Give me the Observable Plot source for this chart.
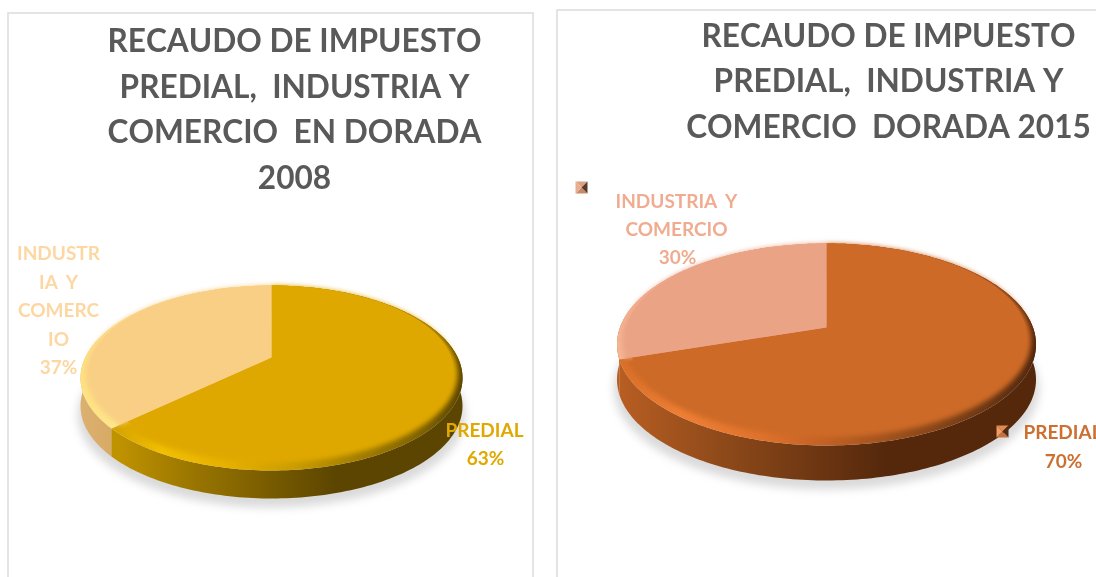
<!DOCTYPE html>
<html>
<head>
<meta charset="utf-8">
<script src="https://cdn.jsdelivr.net/npm/d3@7"></script>
<script src="https://cdn.jsdelivr.net/npm/@observablehq/plot@0.6"></script>
<style>
  html, body { margin: 0; padding: 0; background: #fff; overflow: hidden; }
  svg { display: block; }
  svg text { white-space: pre; }
  .shadow { filter: blur(4px); }
  .rim { filter: blur(0.6px); }
  .surface { filter: blur(2.5px); }
  .soft { filter: blur(0.4px); }
  .title { font-kerning: none; }
</style>
</head>
<body>
<div id="chart"></div>
<script>
// ---------- data ----------
const categories = ["PREDIAL", "INDUSTRIA Y COMERCIO"];
const values2008 = [63, 37];
const values2015 = [70, 30];

const title2008 = ["RECAUDO DE IMPUESTO", "PREDIAL,  INDUSTRIA Y", "COMERCIO  EN DORADA", "2008"];
const title2015 = ["RECAUDO DE IMPUESTO", "PREDIAL,  INDUSTRIA Y", "COMERCIO  DORADA 2015"];

const labels2008 = [
  {text: "INDUSTR", cat: 1}, {text: "IA  Y", cat: 1}, {text: "COMERC", cat: 1}, {text: "IO", cat: 1}, {text: "37%", cat: 1},
  {text: "PREDIAL", cat: 0}, {text: "63%", cat: 0}
];
const labels2015 = [
  {text: "INDUSTRIA  Y", cat: 1}, {text: "COMERCIO", cat: 1}, {text: "30%", cat: 1},
  {text: "PREDIAL", cat: 0}, {text: "70%", cat: 0}
];

// ---------- layout ----------
const W = 1096, H = 577;
const pie2008 = {
  id: "a", values: values2008, cx: 271, apex: 357, top: 285, bot: 470, rx: 191, depth: 28,
  flat: ["#dfa800", "#f9cf85"],
  sideStops: [[118, "#bf9200"], [200, "#967300"], [335, "#5c4500"], [470, "#5c4500"]],
  sideStops2: [[80, "#dcb070"], [125, "#d5a760"]],
  rimStops: [[118, "#d6a500"], [160, "#f2c000"], [230, "#e6b000"], [290, "#cc9e00"], [350, "#a88200"], [425, "#7d6000"], [462, "#5c4500"]],
  rimStops2: [[80, "#ffe27f"], [125, "#ffe890"]]
};
const pie2015 = {
  id: "b", values: values2015, cx: 826, apex: 327, top: 243, bot: 445, rx: 209.5, depth: 35,
  flat: ["#cd6a27", "#eba385"],
  sideStops: [[618, "#b85e22"], [720, "#8f4a1a"], [885, "#55280c"], [1040, "#55280c"]],
  sideStops2: [[612, "#b85e22"], [625, "#b85e22"]],
  rimStops: [[618, "#d96f28"], [680, "#ef7f34"], [760, "#e0722c"], [830, "#bf6024"], [900, "#9a4f1c"], [985, "#6d3815"], [1036, "#52260c"]],
  rimStops2: [[612, "#f6b595"], [625, "#f6b595"]]
};
const titleLayout = [
  {lines: title2008, x: 294, ys: [41, 87, 132, 178]},
  {lines: title2015, x: 888, ys: [36, 81, 127]}
];
const labelY2008 = [253, 282, 310, 339, 367, 430, 458];
const labelX2008 = [58, 58, 58, 58, 58, 484, 485];
const labelY2015 = [201, 229, 257, 432, 461];
const labelX2015 = [676, 676, 677, 1062, 1063];
const colours2008 = ["#e0a800", "#fdd7a2"];
const colours2015 = ["#cd6f30", "#f0ac90"];
const keys = [
  {cx: 581, cy: 187, colours: ["#dda080", "#c98a68", "#e9ae90", "#5a3a2a"]},
  {cx: 1002, cy: 431, colours: ["#e08a50", "#c8703a", "#ee9c68", "#4f2a14"]}
];

// ---------- geometry derived from the values through d3.pie ----------
function projector(p) {
  const a = p.apex - p.top, b = p.bot - p.apex;
  const k = b / a, persp = (k - 1) / (k + 1), q = a * (1 + persp);
  const A = p.rx * Math.sqrt(1 - persp * persp);
  // inset pulls a rim point towards the pie's centre along its radius, so slice seams stay straight
  return (t, inset = 0, dy = 0) => {
    const u = Math.sin(t), v = Math.cos(t), w = 1 + persp * v;
    const e = inset * ((1 - v) / 2) ** 2;
    return {x: p.cx + (A * u / w) * (1 - e), y: p.apex - (q * v / w) * (1 - e) + dy};
  };
}
function arcAngles(a0, a1) {
  const n = Math.max(2, Math.ceil((a1 - a0) / 0.02));
  return d3.range(n + 1).map(i => a0 + (a1 - a0) * i / n);
}
function sideWall(proj, s, depth) {
  const ts = arcAngles(s.startAngle, s.endAngle);
  return [...ts.map(t => proj(t)), ...ts.slice().reverse().map(t => proj(t, 0, depth))];
}
function gradient(id, stops) {
  const x1 = stops[0][0], x2 = stops[stops.length - 1][0];
  return `<linearGradient id="${id}" gradientUnits="userSpaceOnUse" x1="${x1}" x2="${x2}" y1="0" y2="0">` +
    stops.map(([x, c]) => `<stop offset="${(x - x1) / (x2 - x1)}" stop-color="${c}"/>`).join("") +
    `</linearGradient>`;
}
const defs = () => {
  const g = document.createElementNS("http://www.w3.org/2000/svg", "defs");
  g.innerHTML = [pie2008, pie2015].flatMap(p => [
    gradient(p.id + "side0", p.sideStops), gradient(p.id + "side1", p.sideStops2),
    gradient(p.id + "rim0", p.rimStops), gradient(p.id + "rim1", p.rimStops2)
  ]).join("");
  return g;
};
const softInset = 0.07;
const flatInset = 0.14;
function pieMarks(p) {
  const proj = projector(p);
  const centre = {x: p.cx, y: p.apex};
  const sector = (s, inset) => [centre, ...arcAngles(s.startAngle, s.endAngle).map(t => proj(t, inset))];
  const slices = d3.pie().sort(null)(p.values);
  const poly = (pts, opts) => Plot.line(pts, {x: "x", y: "y", stroke: "none", ...opts});
  const shadowPts = arcAngles(0, 2 * Math.PI).map(t => {
    const q = proj(t, 0, p.depth + 9);
    return {x: p.cx + (q.x - p.cx) * 1.015, y: q.y};
  });
  return [
    poly(shadowPts, {fill: "#dadada", className: "shadow"}),
    ...slices.map((s, i) => [s, i]).reverse().map(([s, i]) =>
      poly(sideWall(proj, s, p.depth), {fill: `url(#${p.id}side${i})`, className: "soft"})),
    ...slices.map((s, i) => poly(sector(s, 0), {fill: `url(#${p.id}rim${i})`, className: "rim"})),
    ...slices.map((s, i) => poly(sector(s, softInset), {fill: p.flat[i], className: "surface"})),
    ...slices.map((s, i) => poly(sector(s, flatInset), {fill: p.flat[i], className: "soft"}))
  ];
}
function keyMark({cx, cy, colours}) {
  const r = 6;
  const tl = {x: cx - r, y: cy - r}, tr = {x: cx + r, y: cy - r}, br = {x: cx + r, y: cy + r}, bl = {x: cx - r, y: cy + r};
  const c = {x: cx, y: cy};
  return [[tl, tr, c], [bl, br, c], [tl, bl, c], [tr, br, c]]
    .map((pts, i) => Plot.line(pts, {x: "x", y: "y", fill: colours[i], stroke: "none", className: "soft"}));
}
const textStyle = {fontFamily: "Lato, Carlito, sans-serif", fontWeight: 700, textAnchor: "middle", lineAnchor: "middle"};
function labelTable(list, xs, ys, colours) {
  return list.map((d, i) => ({text: d.text, x: xs[i], y: ys[i], fill: colours[d.cat]}));
}
const labels = [
  ...labelTable(labels2008, labelX2008, labelY2008, colours2008),
  ...labelTable(labels2015, labelX2015, labelY2015, colours2015)
];
const titles = titleLayout.flatMap(t => t.lines.map((text, i) => ({text, x: t.x, y: t.ys[i]})));

const chart = Plot.plot({
  width: W, height: H, margin: 0,
  style: {background: "#fff"},
  x: {domain: [0, W], range: [0, W], axis: null},
  y: {domain: [0, H], range: [0, H], axis: null},
  marks: [
    defs,
    Plot.rect([{x1: 8, x2: 533, y1: 13, y2: 600}, {x1: 557, x2: 1120, y1: 10, y2: 600}],
      {x1: "x1", x2: "x2", y1: "y1", y2: "y2", fill: "none", stroke: "#dcdcdc", strokeWidth: 1.5}),
    ...pieMarks(pie2008),
    ...pieMarks(pie2015),
    ...keys.flatMap(keyMark),
    Plot.text(titles, {x: "x", y: "y", text: "text", fill: "#595959", fontSize: 31.6, ...textStyle, className: "soft title"}),
    Plot.text(labels, {x: "x", y: "y", text: "text", fill: "fill", fontSize: 19, ...textStyle, className: "soft"})
  ]
});
document.getElementById("chart").append(chart);
</script>
</body>
</html>
